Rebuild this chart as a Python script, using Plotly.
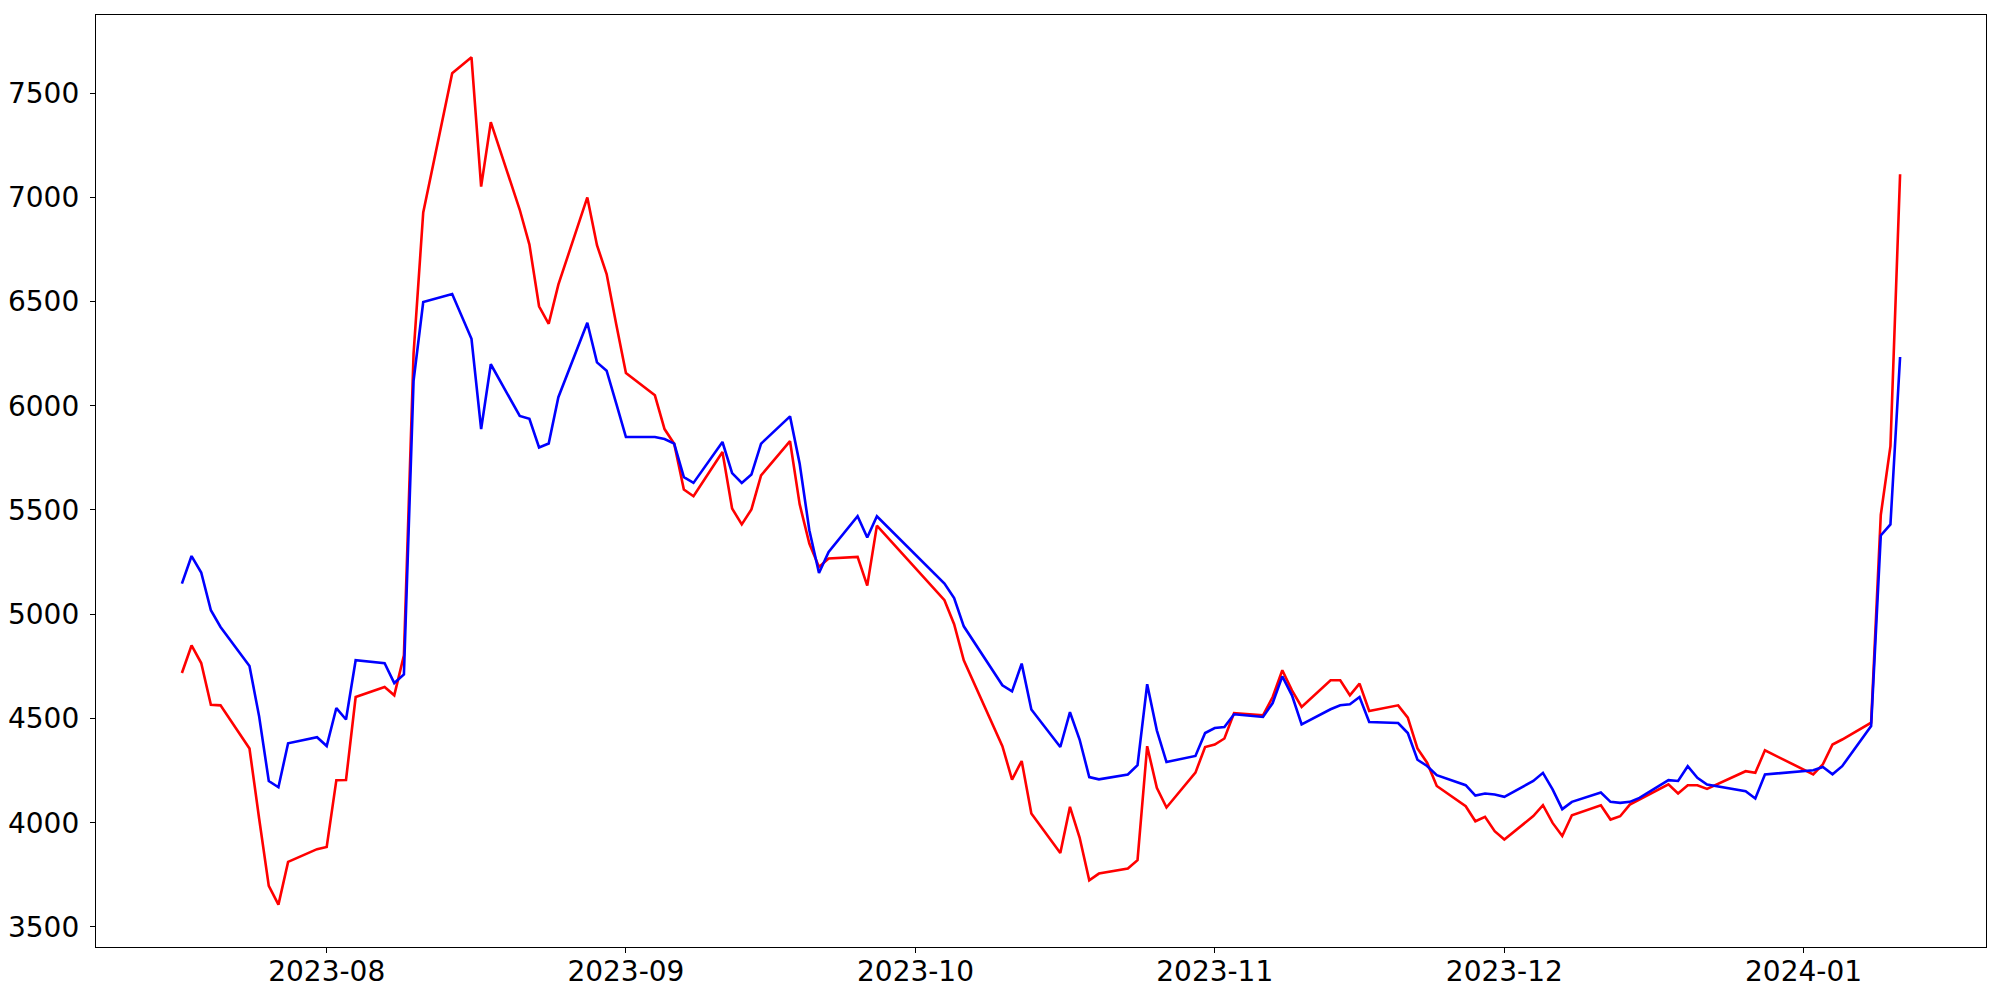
import pandas as pd
import plotly.graph_objects as go

dates = [
    "2023-07-17", "2023-07-18", "2023-07-19", "2023-07-20", "2023-07-21",
    "2023-07-24", "2023-07-25", "2023-07-26", "2023-07-27", "2023-07-28",
    "2023-07-31", "2023-08-01", "2023-08-02", "2023-08-03", "2023-08-04",
    "2023-08-07", "2023-08-08", "2023-08-09", "2023-08-10", "2023-08-11",
    "2023-08-14", "2023-08-16", "2023-08-17", "2023-08-18",
    "2023-08-21", "2023-08-22", "2023-08-23", "2023-08-24", "2023-08-25",
    "2023-08-28", "2023-08-29", "2023-08-30", "2023-08-31", "2023-09-01",
    "2023-09-04", "2023-09-05", "2023-09-06", "2023-09-07", "2023-09-08",
    "2023-09-11", "2023-09-12", "2023-09-13", "2023-09-14", "2023-09-15",
    "2023-09-18", "2023-09-19", "2023-09-20", "2023-09-21", "2023-09-22",
    "2023-09-25", "2023-09-26", "2023-09-27",
    "2023-10-04", "2023-10-05", "2023-10-06",
    "2023-10-10", "2023-10-11", "2023-10-12", "2023-10-13",
    "2023-10-16", "2023-10-17", "2023-10-18", "2023-10-19", "2023-10-20",
    "2023-10-23", "2023-10-24", "2023-10-25", "2023-10-26", "2023-10-27",
    "2023-10-30", "2023-10-31", "2023-11-01", "2023-11-02", "2023-11-03",
    "2023-11-06", "2023-11-07", "2023-11-08", "2023-11-09", "2023-11-10",
    "2023-11-13", "2023-11-14", "2023-11-15", "2023-11-16", "2023-11-17",
    "2023-11-20", "2023-11-21", "2023-11-22", "2023-11-23", "2023-11-24",
    "2023-11-27", "2023-11-28", "2023-11-29", "2023-11-30", "2023-12-01",
    "2023-12-04", "2023-12-05", "2023-12-06", "2023-12-07", "2023-12-08",
    "2023-12-11", "2023-12-12", "2023-12-13", "2023-12-14", "2023-12-15",
    "2023-12-18", "2023-12-19", "2023-12-20", "2023-12-21", "2023-12-22",
    "2023-12-26", "2023-12-27", "2023-12-28",
    "2024-01-02", "2024-01-03", "2024-01-04", "2024-01-05",
    "2024-01-08", "2024-01-09", "2024-01-10", "2024-01-11",
]

red_values = [
    4718, 4850, 4766, 4566, 4563,
    4356, 4020, 3697, 3607, 3812,
    3873, 3884, 4204, 4205, 4603,
    4651, 4611, 4803, 6250, 6927,
    7595, 7671, 7051, 7360,
    6940, 6773, 6477, 6393, 6581,
    6999, 6770, 6632, 6390, 6157,
    6050, 5888, 5818, 5598, 5566,
    5778, 5507, 5431, 5503, 5666,
    5830, 5527, 5339, 5227, 5267,
    5275, 5137, 5425,
    5067, 4952, 4779,
    4367, 4207, 4296, 4044,
    3855, 4076, 3929, 3724, 3756,
    3780, 3820, 4367, 4167, 4073,
    4240, 4363, 4375, 4404, 4526,
    4515, 4603, 4731, 4635, 4555,
    4683, 4683, 4611, 4667, 4536,
    4563, 4504, 4356, 4288, 4176,
    4079, 4007, 4028, 3959, 3919,
    4032, 4084, 3999, 3936, 4036,
    4084, 4015, 4031, 4087, 4111,
    4184, 4140, 4180, 4180, 4162,
    4247, 4239, 4347,
    4232, 4280, 4375, 4399,
    4480, 5476, 5806, 7110,
]

blue_values = [
    5147, 5279, 5200, 5019, 4939,
    4752, 4510, 4200, 4170, 4381,
    4410, 4368, 4550, 4495, 4779,
    4765, 4670, 4711, 6120, 6497,
    6536, 6321, 5888, 6199,
    5951, 5937, 5800, 5819, 6041,
    6398, 6208, 6168, 6010, 5850,
    5850, 5840, 5818, 5658, 5630,
    5826, 5677, 5630, 5670, 5818,
    5949, 5722, 5403, 5198, 5299,
    5470, 5368, 5470,
    5147, 5078, 4942,
    4659, 4630, 4763, 4543,
    4363, 4530, 4399, 4219, 4208,
    4231, 4276, 4664, 4443, 4291,
    4320, 4430, 4454, 4459, 4520,
    4507, 4574, 4702, 4611, 4472,
    4544, 4563, 4568, 4603, 4483,
    4478, 4430, 4302, 4272, 4228,
    4180, 4130, 4140, 4135, 4124,
    4200, 4239, 4160, 4065, 4100,
    4145, 4100, 4095, 4100, 4119,
    4204, 4200, 4271, 4215, 4183,
    4151, 4116, 4231,
    4252, 4267, 4232, 4271,
    4464, 5378, 5431, 6234,
]

y_ticks = [3500, 4000, 4500, 5000, 5500, 6000, 6500, 7000, 7500]

x = pd.to_datetime(dates)

fig = go.Figure()
fig.add_trace(go.Scatter(x=x, y=red_values, mode="lines",
                         line=dict(color="#ff0000", width=2.6), showlegend=False))
fig.add_trace(go.Scatter(x=x, y=blue_values, mode="lines",
                         line=dict(color="#0000ff", width=2.6), showlegend=False))

# matplotlib-like 5% margins
span = x.max() - x.min()
xr = [x.min() - 0.05 * span, x.max() + 0.05 * span]
allv = red_values + blue_values
vmin, vmax = min(allv), max(allv)
pad = 0.05 * (vmax - vmin)
yr = [vmin - pad, vmax + pad]

font = dict(family="DejaVu Sans", size=28, color="black")

# page body has an 8px margin, so the figure is sized to fit the 2000x1000 window
fig.update_layout(
    template="none",
    width=1984, height=984,
    margin=dict(l=88, r=6, t=7, b=45, pad=0),
    paper_bgcolor="white", plot_bgcolor="white",
    font=font,
    showlegend=False,
)
fig.update_xaxes(
    type="date", range=xr, tickformat="%Y-%m", dtick="M1", tick0="2023-08-01",
    automargin=False,
    showgrid=False, zeroline=False,
    showline=True, linecolor="black", linewidth=1.3, mirror=True,
    ticks="outside", ticklen=5, tickwidth=1.2, tickcolor="black",
    tickfont=font, ticklabelstandoff=-6,
)
fig.update_yaxes(
    range=yr, tickvals=y_ticks,
    automargin=False,
    showgrid=False, zeroline=False,
    showline=True, linecolor="black", linewidth=1.3, mirror=True,
    ticks="outside", ticklen=5, tickwidth=1.2, tickcolor="black",
    tickfont=font, ticklabelstandoff=5,
)

fig.write_html("out.html")
